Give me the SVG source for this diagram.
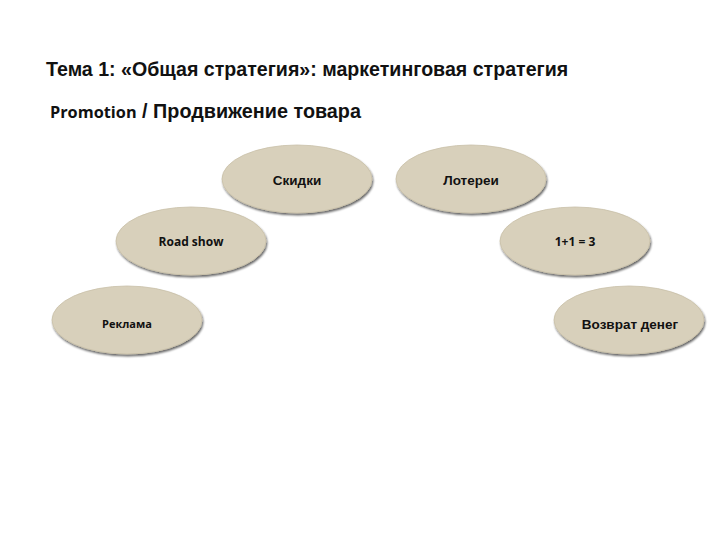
<svg xmlns="http://www.w3.org/2000/svg" width="720" height="540" viewBox="0 0 720 540">
<defs>
<filter id="sh" x="-10%" y="-10%" width="120%" height="130%">
<feGaussianBlur in="SourceAlpha" stdDeviation="1.2"/>
<feOffset dx="1" dy="2" result="b"/>
<feComponentTransfer><feFuncA type="linear" slope="0.6"/></feComponentTransfer>
<feMerge><feMergeNode/><feMergeNode in="SourceGraphic"/></feMerge>
</filter>
</defs>
<style>
.el{fill:#d8d0bb;stroke:#c9c0a8;stroke-width:0.8;filter:url(#sh)}
.t{font-family:"Liberation Sans",Arial,sans-serif;font-weight:bold;fill:#111;text-anchor:middle}
.c{font-family:"Open Sans","Liberation Sans",sans-serif;font-weight:bold;fill:#111;text-anchor:middle}
.h{font-family:"Liberation Sans",Arial,sans-serif;font-weight:bold;fill:#111}
</style>
<rect width="720" height="540" fill="#fff"/>
<g id="title">
<text class="h" x="46" y="76" font-size="19.6">Тема 1: «Общая стратегия»: маркетинговая стратегия</text>
</g>
<g id="subtitle">
<text class="h" x="50" y="118" font-size="19.8"><tspan font-family="Open Sans, Liberation Sans, sans-serif" font-size="16.3">Promotion</tspan> / Продвижение товара</text>
</g>
<g id="connectors"></g>
<g id="skidki">
<ellipse class="el" cx="297" cy="179" rx="75" ry="34"/>
<text class="t" x="297" y="185" font-size="13.5">Скидки</text>
</g>
<g id="loterei">
<ellipse class="el" cx="471" cy="179" rx="75" ry="34"/>
<text class="t" x="471" y="185" font-size="13.5">Лотереи</text>
</g>
<g id="roadshow">
<ellipse class="el" cx="191" cy="241" rx="75" ry="34"/>
<text class="c" x="191" y="246" font-size="12">Road show</text>
</g>
<g id="oneplusone">
<ellipse class="el" cx="575" cy="241" rx="75" ry="34"/>
<text class="c" x="575" y="246" font-size="12">1+1 = 3</text>
</g>
<g id="reklama">
<ellipse class="el" cx="127" cy="320" rx="75" ry="34"/>
<text class="c" x="127" y="328" font-size="11">Реклама</text>
</g>
<g id="vozvrat">
<ellipse class="el" cx="629" cy="320" rx="75" ry="34"/>
<text class="t" x="630" y="329" font-size="13.5">Возврат денег</text>
</g>
</svg>
